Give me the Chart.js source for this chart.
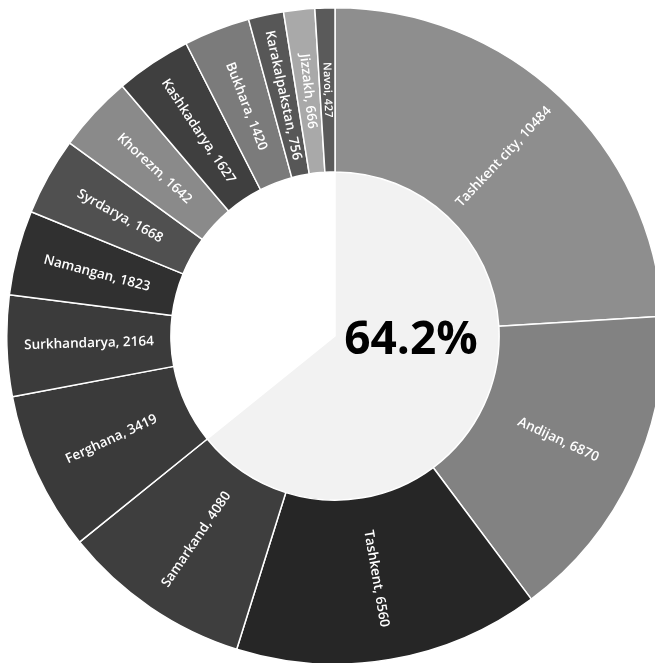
<!DOCTYPE html>
<html>
<head>
<meta charset="utf-8">
<script src="https://cdn.jsdelivr.net/npm/chart.js@4.4.0/dist/chart.umd.min.js"></script>
<style>
  html, body { margin: 0; padding: 0; background: #fff; overflow: hidden; width: 655px; height: 663px; }
  #wrap { position: absolute; left: 6px; top: 7px; width: 658px; height: 658px; }
</style>
</head>
<body>
<div id="wrap"><canvas id="donut"></canvas></div>
<script>
// regions and counts (outer ring)
var regions = ["Tashkent city", "Andijan", "Tashkent", "Samarkand", "Ferghana", "Surkhandarya",
  "Namangan", "Syrdarya", "Khorezm", "Kashkadarya", "Bukhara", "Karakalpakstan", "Jizzakh", "Navoi"];
var counts = [10484, 6870, 6560, 4080, 3419, 2164, 1823, 1668, 1642, 1627, 1420, 756, 666, 427];
var ringColors = ["#8e8e8e", "#828282", "#262626", "#3e3e3e", "#3a3a3a", "#3b3b3b", "#303030",
  "#505050", "#8a8a8a", "#3f3f3f", "#7b7b7b", "#575757", "#a9a9a9", "#5a5a5a"];

// inner pie: share of the four largest regions vs the rest
var innerLabels = ["Top 4", "Other"];
var innerShare = [64.2, 35.8];
var innerColors = ["#f2f2f2", "#ffffff"];
var centerText = "64.2%";

var labelPlugin = {
  id: 'ringLabels',
  afterDraw: function(chart) {
    var ctx = chart.ctx;
    var meta = chart.getDatasetMeta(0);
    ctx.save();
    ctx.fillStyle = "#ffffff";
    ctx.textAlign = "center";
    ctx.textBaseline = "middle";
    meta.data.forEach(function(arc, i) {
      var p = arc.getProps(['x', 'y', 'startAngle', 'endAngle', 'innerRadius', 'outerRadius'], true);
      var mid = (p.startAngle + p.endAngle) / 2;
      var r = (p.innerRadius + p.outerRadius) / 2;
      var x = p.x + Math.cos(mid) * r;
      var y = p.y + Math.sin(mid) * r;
      // mid measured from top, clockwise
      var deg = (mid * 180 / Math.PI + 90 + 360) % 360;
      var rot = deg < 180 ? deg - 90 : deg - 270;
      ctx.save();
      ctx.translate(x, y);
      ctx.rotate(rot * Math.PI / 180);
      ctx.font = (i == 13 ? "600 11px" : "600 13.5px") + " 'Open Sans'";
      ctx.fillText(regions[i] + ", " + counts[i], 0, 0);
      ctx.restore();
    });
    var c = meta.data[0];
    ctx.fillStyle = "#000";
    ctx.font = "bold 46px 'Open Sans'";
    ctx.fillText(centerText, c.x + 76, c.y + 5);
    ctx.restore();
  }
};

new Chart(document.getElementById("donut").getContext('2d'), {
  type: 'doughnut',
  data: {
    labels: regions,
    datasets: [{
      data: counts,
      backgroundColor: ringColors,
      borderColor: "#ffffff",
      borderWidth: 1.5,
      weight: 1
    }, {
      data: innerShare,
      backgroundColor: innerColors,
      borderColor: innerColors,
      borderWidth: 1.5,
      weight: 1
    }]
  },
  options: {
    responsive: true,
    maintainAspectRatio: false,
    animation: false,
    cutout: 0,
    layout: { padding: 0 },
    plugins: { legend: { display: false }, tooltip: { enabled: false } }
  },
  plugins: [labelPlugin]
});
</script>
</body>
</html>
